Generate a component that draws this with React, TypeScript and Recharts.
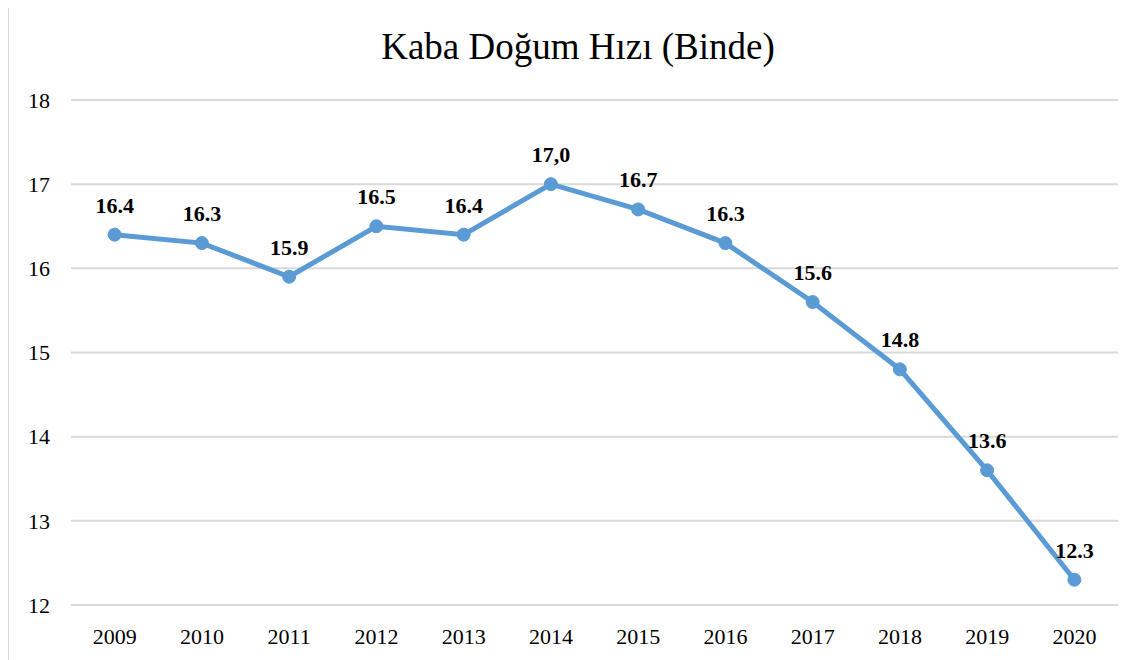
import { LineChart, Line, XAxis, YAxis, CartesianGrid, LabelList } from "recharts"

const years = ["2009", "2010", "2011", "2012", "2013", "2014", "2015", "2016", "2017", "2018", "2019", "2020"]
const rates = [16.4, 16.3, 15.9, 16.5, 16.4, 17.0, 16.7, 16.3, 15.6, 14.8, 13.6, 12.3]
const rateLabels = ["16.4", "16.3", "15.9", "16.5", "16.4", "17,0", "16.7", "16.3", "15.6", "14.8", "13.6", "12.3"]
const yTicks = [12, 13, 14, 15, 16, 17, 18]

const data = years.map((year, i) => ({ year, rate: rates[i], label: rateLabels[i] }))

const FONT = '"Liberation Serif", "Times New Roman", serif'

export default function App() {
  return (
    <div
      style={{
        position: "relative",
        marginTop: -4,
        width: 1140,
        height: 670,
        border: "1px solid #d9d9d9",
        boxSizing: "border-box",
        background: "#fff",
        fontFamily: FONT,
      }}
    >
      <div
        style={{
          position: "absolute",
          left: 0,
          width: 1138,
          top: 20,
          textAlign: "center",
          fontSize: 37,
          color: "#000",
        }}
      >
        Kaba Doğum Hızı (Binde)
      </div>
      <LineChart width={1138} height={655} data={data} margin={{ top: 95, right: 29, bottom: 15, left: 0 }}>
        <CartesianGrid vertical={false} stroke="#d9d9d9" strokeWidth={2} />
        <XAxis
          dataKey="year"
          scale="band"
          axisLine={false}
          tickLine={false}
          height={40}
          tickMargin={17}
          tick={{ fill: "#000", fontSize: 22, fontFamily: FONT }}
        />
        <YAxis
          width={62}
          domain={[12, 18]}
          ticks={yTicks}
          axisLine={false}
          tickLine={false}
          tickMargin={15}
          tick={{ fill: "#000", fontSize: 22, fontFamily: FONT }}
        />
        <Line
          type="linear"
          dataKey="rate"
          stroke="#5b9bd5"
          strokeWidth={5}
          dot={{ r: 6.5, fill: "#5b9bd5", stroke: "#5b9bd5", strokeWidth: 1 }}
          isAnimationActive={false}
        >
          <LabelList
            dataKey="label"
            position="top"
            offset={22}
            style={{ fill: "#000", fontSize: 22, fontWeight: "bold", fontFamily: FONT }}
          />
        </Line>
      </LineChart>
    </div>
  )
}
